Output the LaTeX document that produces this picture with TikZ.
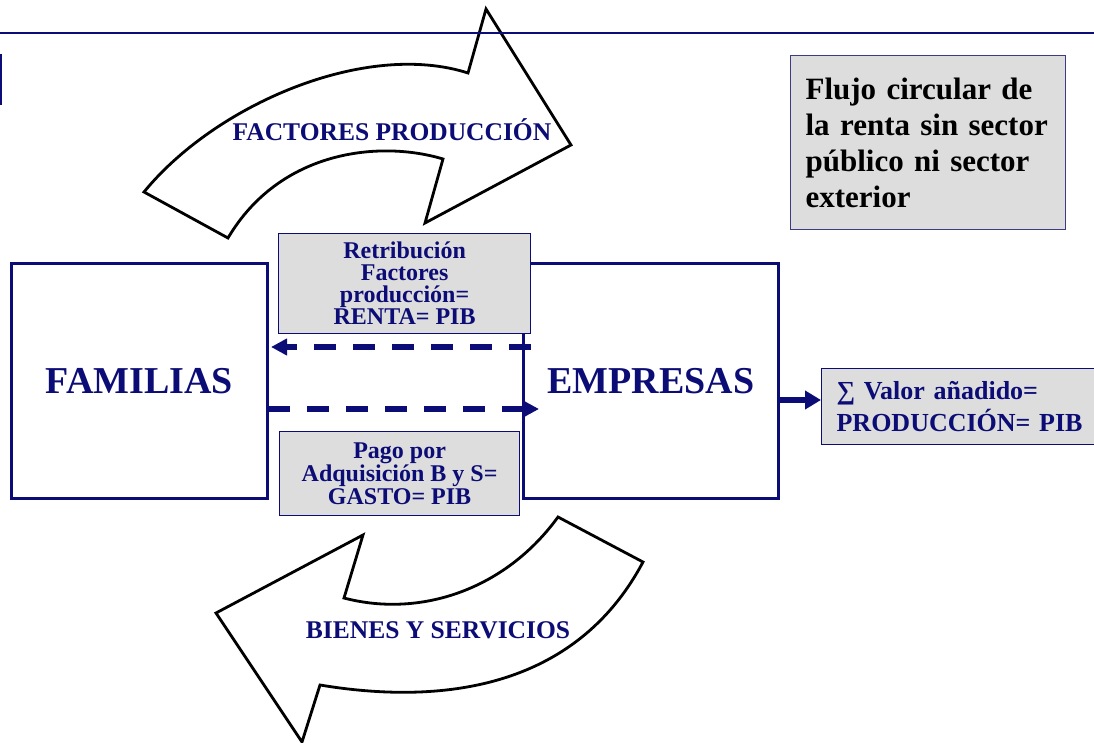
\documentclass[tikz,border=0pt]{standalone}
\usepackage{fontspec}
\setmainfont{Liberation Serif}
\usetikzlibrary{arrows.meta}
\definecolor{navy}{RGB}{12,12,118}
\definecolor{boxgrey}{RGB}{221,221,221}
\definecolor{framegrey}{RGB}{60,60,130}
\begin{document}
\begin{tikzpicture}[x=1pt,y=-1pt,
  bigbox/.style={draw=navy, line width=3pt, text=navy, font=\bfseries\fontsize{38}{40}\selectfont, inner sep=0pt},
  greybox/.style={draw=navy, line width=1.2pt, fill=boxgrey, text=navy, font=\bfseries\fontsize{24}{22}\selectfont, align=center, inner sep=0pt, anchor=north west},
  flow/.style={draw=black, line width=2.8pt, fill=white, line join=miter},
  flowtext/.style={text=navy, font=\bfseries\fontsize{25.5}{27}\selectfont, inner sep=0pt},
  dashflow/.style={draw=navy, line width=6pt, dash pattern=on 22pt off 17pt, -{Triangle[length=16pt,width=16pt]}},
  solidflow/.style={draw=navy, line width=5.5pt, -{Triangle[length=16pt,width=18pt]}}
]
\useasboundingbox (0,0) rectangle (1094,743);

% big curved arrows
\draw[flow] (144,192) .. controls (215,105) and (365,40) .. (468,73) -- (486,9) -- (571,145) -- (425,223) -- (443,159) .. controls (380,140) and (280,150) .. (228,238) -- cycle;
\draw[flow] (558,517) -- (643,562) .. controls (575,690) and (440,705) .. (320,685) -- (302,742) -- (216,613) -- (363,535) -- (344,598) .. controls (420,618) and (505,590) .. (558,517) -- cycle;

% header rule and left mark
\draw[navy, line width=1.5pt] (0,33) -- (1094,33);
\draw[navy, line width=1.5pt] (0.75,54) -- (0.75,105);

\node[flowtext] (fp) at (392,130) {FACTORES PRODUCCIÓN};
\node[flowtext] (bs) at (438,630) {BIENES Y SERVICIOS};

% main boxes
\node[bigbox, minimum width=256pt, minimum height=235pt, anchor=north west] (fam) at (10,262) {FAMILIAS};
\node[bigbox, minimum width=255pt, minimum height=235pt, anchor=north west] (emp) at (522,262) {EMPRESAS};

% grey boxes
\node[greybox, minimum width=252pt, minimum height=100pt] (ret) at (278,233) {Retribución\\Factores\\producción=\\RENTA= PIB};
\node[greybox, minimum width=240pt, minimum height=84pt, font=\bfseries\fontsize{24}{23}\selectfont] (pago) at (279,431) {Pago por\\Adquisición B y S=\\GASTO= PIB};
\node[greybox, draw=framegrey, text=black, align=left, text width=245pt, inner xsep=15pt, minimum height=174pt, font=\bfseries\fontsize{31}{36}\selectfont] (flujo) at (790,55) {Flujo circular de\\la renta sin sector\\público ni sector\\exterior};
\node[greybox, align=left, text width=270pt, inner xsep=15pt, minimum height=76pt, font=\bfseries\fontsize{26}{32}\selectfont] (valor) at (821,368) {∑ Valor añadido=\\PRODUCCIÓN= PIB};

% flows
\coordinate (rA) at (0,347);
\coordinate (rB) at (0,409);
\coordinate (rC) at (0,400);
\draw[dashflow] (ret.east |- rA) -- ([xshift=2pt]fam.east |- rA);
\draw[dashflow] ([xshift=-1pt]fam.east |- rB) -- ([xshift=17pt]emp.west |- rB);
\draw[solidflow] (emp.east |- rC) -- (valor.west |- rC);
\end{tikzpicture}
\end{document}
